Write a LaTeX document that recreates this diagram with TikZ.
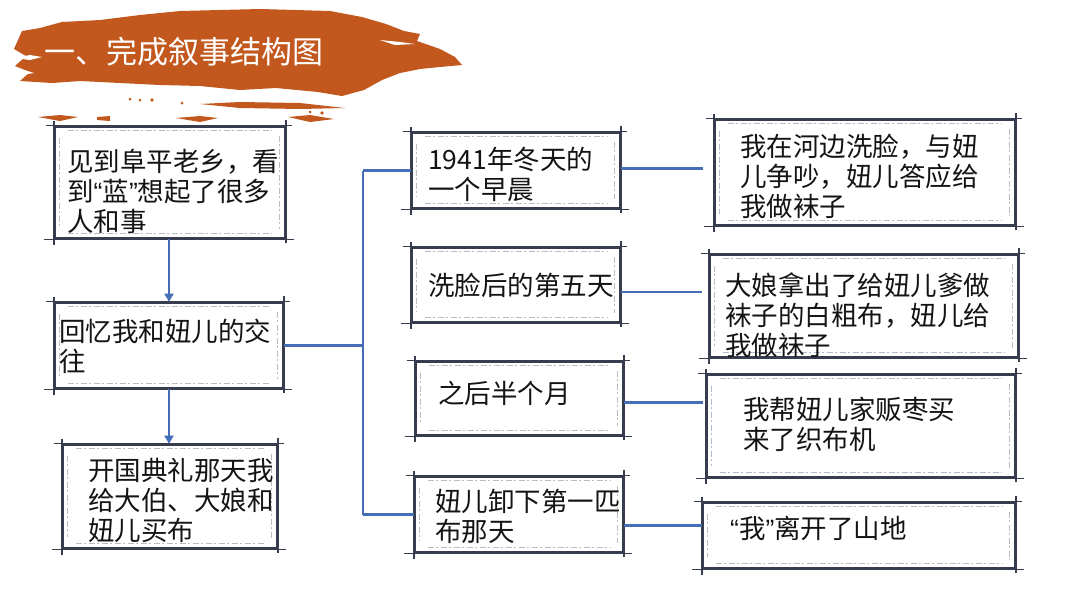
\documentclass[tikz,border=0pt]{standalone}
\usepackage{fontspec}
\setmainfont{Noto Sans CJK SC}
\newfontfamily\latq{Liberation Sans}
\usetikzlibrary{arrows.meta}
\definecolor{brush}{RGB}{194,88,30}
\definecolor{boxc}{RGB}{55,61,78}
\definecolor{connc}{RGB}{70,110,182}
\definecolor{txtc}{RGB}{20,20,20}
\newcommand\myLq{{\latq “}}
\newcommand\myRq{{\latq ”}}
\newcommand\skbox[1]{%
  \draw[skl] ([xshift=-8pt]#1.north west) -- ([xshift=6pt]#1.north east);
  \draw[skl] ([xshift=-10pt]#1.south west) -- ([xshift=8pt]#1.south east);
  \draw[sks] ([yshift=5pt]#1.north west) -- ([yshift=-6pt]#1.south west);
  \draw[sks] ([yshift=6pt]#1.north east) -- ([yshift=-4pt]#1.south east);
  \draw[skf] ([xshift=14pt,yshift=-5pt]#1.north west) -- ([xshift=-14pt,yshift=-5pt]#1.north east);
  \draw[skf] ([xshift=14pt,yshift=6pt]#1.south west) -- ([xshift=-14pt,yshift=6pt]#1.south east);
  \draw[skf] ([xshift=-7pt,yshift=-10pt]#1.north east) -- ([xshift=-7pt,yshift=10pt]#1.south east);
  \draw[skf] ([xshift=6pt,yshift=-12pt]#1.north west) -- ([xshift=6pt,yshift=12pt]#1.south west);
}
\tikzset{
  box/.style={draw=boxc, line width=2.6pt, fill=white, inner sep=0pt},
  skl/.style={draw=boxc, line width=1.1pt},
  sks/.style={draw=boxc, line width=2pt},
  skf/.style={draw=boxc!35, line width=0.6pt, dash pattern=on 6pt off 2pt on 2pt off 3pt},
  txt/.style={anchor=west, align=left, text=txtc, inner sep=0pt, font=\fontsize{26.5}{30}\selectfont},
  conn/.style={draw=connc, line width=2.5pt},
  arr/.style={conn, -{Triangle[width=9pt,length=8pt]}}
}
\begin{document}
\begin{tikzpicture}[x=1pt,y=-1pt]
\useasboundingbox (0,0) rectangle (1080,608);
\fill[white] (0,0) rectangle (1080,608);
% brush stroke
\fill[brush] (18,40) -- (22,31) -- (40,28) -- (62,22) -- (100,20) -- (140,15) -- (180,11) -- (260,9) -- (330,11) -- (362,17) -- (386,24) -- (404,31) -- (420,34) -- (417,41) -- (440,49) -- (455,57) -- (462,65) -- (440,67) -- (420,69) -- (400,73) -- (382,80) -- (364,90) -- (342,96) -- (318,92) -- (276,88) -- (240,90) -- (200,86) -- (160,85) -- (120,83) -- (80,81) -- (52,83) -- (20,81) -- (30,72) -- (15,66) -- (26,56) -- (14,49) -- cycle;
\fill[white] (14,58) -- (30,55) -- (42,57) -- (30,60) -- cycle;
\fill[white] (14,72) -- (24,70) -- (34,73) -- (22,75) -- cycle;
\fill[white] (380,40) -- (400,42) -- (415,44) -- (395,45) -- cycle;
\fill[brush] (200,104) -- (240,102) -- (300,103) -- (345,108) -- (300,109) -- (240,108) -- cycle;
\fill[brush] (38,117) -- (60,115) -- (78,117) -- (60,121) -- cycle;
\fill[brush] (97,117) -- (110,116) -- (110,121) -- (97,120) -- cycle;
\fill[brush] (176,118) -- (200,116) -- (218,118) -- (200,122) -- cycle;
\fill[brush] (288,117) -- (310,115) -- (334,119) -- (310,122) -- cycle;
\fill[brush] (130,99) circle (1.5) (140,100) circle (1.5) (152,100) circle (1.8) (182,103) circle (1.5) (310,112) circle (1.5) (322,113) circle (1.8);
\node[anchor=west, text=white, inner sep=0pt, font=\fontsize{31}{31}\selectfont] (title) at (44,52) {一、完成叙事结构图};
% boxes
\node[box, minimum width=230pt, minimum height=111pt] (L1) at (170,182.5) {};
\node[box, minimum width=228pt, minimum height=85pt] (L2) at (169,345.5) {};
\node[box, minimum width=214pt, minimum height=103pt] (L3) at (170,496.5) {};
\node[box, minimum width=208pt, minimum height=75pt] (M1) at (516,170.5) {};
\node[box, minimum width=208pt, minimum height=74pt] (M2) at (516,285) {};
\node[box, minimum width=207pt, minimum height=73pt] (M3) at (519.5,398.5) {};
\node[box, minimum width=208pt, minimum height=75pt] (M4) at (519,514.5) {};
\node[box, minimum width=300pt, minimum height=105pt] (R1) at (865,172.5) {};
\node[box, minimum width=308pt, minimum height=102pt] (R2) at (864,306) {};
\node[box, minimum width=308pt, minimum height=102pt] (R3) at (861,426) {};
\node[box, minimum width=312pt, minimum height=65pt] (R4) at (859,535.5) {};
\foreach \b in {L1,L2,L3,M1,M2,M3,M4,R1,R2,R3,R4} {\skbox{\b}}
% texts
\node[txt] (tL1) at (67,191) {见到阜平老乡，看\\到\myLq 蓝\myRq 想起了很多\\人和事};
\node[txt] (tL2) at (59,346) {回忆我和妞儿的交\\往};
\node[txt] (tL3) at (88,500) {开国典礼那天我\\给大伯、大娘和\\妞儿买布};
\node[txt] (tM1) at (428,174) {1941年冬天的\\一个早晨};
\node[txt] (tM2) at (428,285) {洗脸后的第五天};
\node[txt] (tM3) at (438,393) {之后半个月};
\node[txt] (tM4) at (435,516) {妞儿卸下第一匹\\布那天};
\node[txt] (tR1) at (740,176) {我在河边洗脸，与妞\\儿争吵，妞儿答应给\\我做袜子};
\node[txt] (tR2) at (725,315) {大娘拿出了给妞儿爹做\\袜子的白粗布，妞儿给\\我做袜子};
\node[txt] (tR3) at (743,424) {我帮妞儿家贩枣买\\来了织布机};
\node[txt] (tR4) at (730,528) {\myLq 我\myRq 离开了山地};
% connectors
\draw[arr] (L2.north |- L1.south) -- (L2.north);
\draw[arr] (L2.south) -- (L2.south |- L3.north);
\draw[conn] (L2.east) -- (363,345.5) coordinate (J);
\draw[conn] (J |- M1.west) -- (J |- M4.west);
\draw[conn] (J |- M1.west) -- (M1.west);
\draw[conn] (J |- M4.west) -- (M4.west);
\draw[conn, shorten >=11pt] ([yshift=2pt]M1.east) -- ([yshift=2pt]M1.east -| R1.west);
\draw[conn, shorten >=7pt] ([yshift=-7pt]M2.east) -- ([yshift=-7pt]M2.east -| R2.west);
\draw[conn, shorten >=3pt] ([yshift=-4pt]M3.east) -- ([yshift=-4pt]M3.east -| R3.west);
\draw[conn] ([yshift=-11pt]M4.east) -- ([yshift=-11pt]M4.east -| R4.west);
\end{tikzpicture}
\end{document}
